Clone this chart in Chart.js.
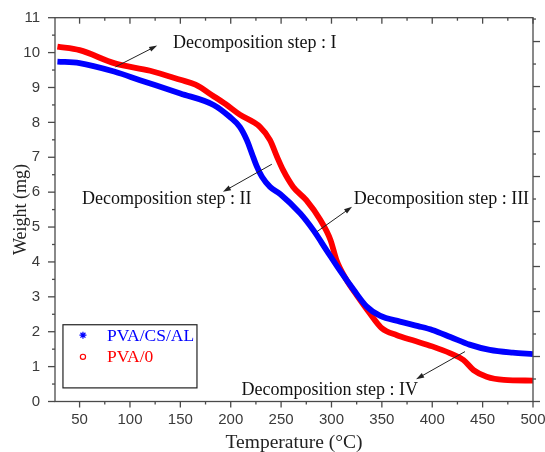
<!DOCTYPE html>
<html><head><meta charset="utf-8">
<script src="https://cdn.jsdelivr.net/npm/chart.js@4/dist/chart.umd.min.js"></script>
<style>html,body{margin:0;padding:0;background:#fff;}canvas{display:block;}</style>
</head><body>
<canvas id="c" width="545" height="452"></canvas>
<script>
// ---- data ----
const seriesNames = ['PVA/CS/AL', 'PVA/0'];
const blueTemps   = [28, 50, 85, 110, 150, 183, 199, 209, 216, 221, 226, 231, 239, 249, 269, 282, 295, 308, 322, 335, 348, 368, 386, 400, 418, 437, 457, 480, 500];
const blueWeights = [9.74, 9.70, 9.45, 9.21, 8.83, 8.50, 8.16, 7.87, 7.49, 7.11, 6.73, 6.44, 6.15, 5.95, 5.39, 4.91, 4.34, 3.77, 3.20, 2.72, 2.46, 2.29, 2.16, 2.05, 1.85, 1.63, 1.48, 1.40, 1.36];
const redTemps    = [28, 50, 85, 120, 150, 165, 183, 195, 209, 229, 239, 246, 252, 262, 275, 289, 299, 305, 315, 325, 338, 350, 365, 380, 400, 418, 431, 441, 454, 471, 500];
const redWeights  = [10.17, 10.07, 9.69, 9.48, 9.22, 9.08, 8.75, 8.52, 8.22, 7.87, 7.49, 7.01, 6.63, 6.15, 5.77, 5.20, 4.63, 4.05, 3.48, 3.05, 2.53, 2.10, 1.90, 1.76, 1.58, 1.38, 1.19, 0.90, 0.71, 0.62, 0.60];
const xTickValues = [50, 100, 150, 200, 250, 300, 350, 400, 450, 500];
const yTickValues = [0, 1, 2, 3, 4, 5, 6, 7, 8, 9, 10, 11];
const stepLabels  = ['Decomposition step : I', 'Decomposition step : II', 'Decomposition step : III', 'Decomposition step : IV'];
// annotation anchors in data units (temperature, weight): text left-middle, arrow tail, arrow head
const stepTextAt  = [[142.7, 10.26], [52.4, 5.80], [322.0, 5.80], [210.7, 0.33]];
const arrowTail   = [[85.6, 9.59], [240.8, 6.80], [285.7, 4.87], [432.5, 1.43]];
const arrowHead   = [[127.0, 10.20], [192.3, 6.01], [320.4, 5.58], [384.0, 0.64]];

const toPts = (xs, ys) => xs.map((t, i) => ({x: t, y: ys[i]}));

const BLUE = '#0000ff', RED = '#ff0000', AXIS = '#4a4a4a';

const decorPlugin = {
  id: 'decor',
  afterDraw(chart) {
    const {ctx, chartArea: a, scales: {x, y, y2}} = chart;
    const ln = (x1, y1, x2, y2_) => { ctx.beginPath(); ctx.moveTo(x1, y1); ctx.lineTo(x2, y2_); ctx.stroke(); };
    ctx.save();
    ctx.strokeStyle = AXIS; ctx.lineWidth = 1.3;
    ctx.strokeRect(a.left, a.top, a.right - a.left, a.bottom - a.top);
    // x ticks (bottom outward, top inward)
    for (let v = 25; v <= x.max + 0.01; v += 25) {
      if (v < x.min) continue;
      const px = x.getPixelForValue(v);
      const len = v % 50 === 0 ? 6 : 3;
      ln(px, a.bottom, px, a.bottom + len);
      ln(px, a.top, px, a.top + len);
    }
    // left y ticks outward
    for (let v = 0; v <= 11.001; v += 0.5) {
      const py = y.getPixelForValue(v);
      const len = Number.isInteger(v) ? 7 : 3;
      ln(a.left - len, py, a.left, py);
    }
    // right (secondary) ticks outward, no labels
    for (let v = 0; v <= y2.max; v += 5) {
      const py = y2.getPixelForValue(v);
      const len = v % 10 === 0 ? 7 : 3;
      ln(a.right, py, a.right + len, py);
    }
    // legend box
    const lx = x.getPixelForValue(33.5), rx = x.getPixelForValue(166.5);
    const ty = y.getPixelForValue(2.2), by = y.getPixelForValue(0.39);
    ctx.strokeStyle = '#222'; ctx.lineWidth = 1.2;
    ctx.strokeRect(lx, ty, rx - lx, by - ty);
    const rows = [[seriesNames[0], BLUE, 'star', y.getPixelForValue(1.9)], [seriesNames[1], RED, 'circle', y.getPixelForValue(1.28)]];
    ctx.font = '17.5px "Liberation Serif"';
    ctx.textBaseline = 'middle'; ctx.textAlign = 'left';
    rows.forEach(([name, col, ps, py]) => {
      ctx.strokeStyle = col; ctx.fillStyle = ps === 'circle' ? '#ffffff' : col;
      Chart.helpers.drawPoint(ctx, {pointStyle: ps, radius: ps === 'star' ? 3.5 : 2.6, rotation: 0, borderWidth: 1.4}, lx + 20, py);
      ctx.fillStyle = col;
      ctx.fillText(name, lx + 44, py + 1);
    });
    // annotations
    ctx.font = '18px "Liberation Serif"';
    ctx.strokeStyle = '#222'; ctx.lineWidth = 1;
    stepLabels.forEach((txt, i) => {
      ctx.fillStyle = '#111';
      ctx.fillText(txt, x.getPixelForValue(stepTextAt[i][0]), y.getPixelForValue(stepTextAt[i][1]));
      const x1 = x.getPixelForValue(arrowTail[i][0]), y1 = y.getPixelForValue(arrowTail[i][1]);
      const x2 = x.getPixelForValue(arrowHead[i][0]), y2p = y.getPixelForValue(arrowHead[i][1]);
      const ang = Math.atan2(y2p - y1, x2 - x1);
      ln(x1, y1, x2 - 5 * Math.cos(ang), y2p - 5 * Math.sin(ang));
      ctx.fillStyle = '#222';
      ctx.beginPath();
      ctx.moveTo(x2, y2p);
      ctx.lineTo(x2 - 8 * Math.cos(ang) + 2.6 * Math.sin(ang), y2p - 8 * Math.sin(ang) - 2.6 * Math.cos(ang));
      ctx.lineTo(x2 - 8 * Math.cos(ang) - 2.6 * Math.sin(ang), y2p - 8 * Math.sin(ang) + 2.6 * Math.cos(ang));
      ctx.closePath(); ctx.fill();
    });
    ctx.restore();
  }
};

const tickFont = {family: '"Liberation Sans", Arial, sans-serif', size: 15};
const titleFont = {family: '"Liberation Serif", "Times New Roman", serif', size: 18, lineHeight: 1};
const noPad = s => { s.paddingLeft = 0; s.paddingRight = 0; s.paddingTop = 0; s.paddingBottom = 0; };

new Chart(document.getElementById('c'), {
  type: 'line',
  data: {
    datasets: [
      {label: seriesNames[0], data: toPts(blueTemps, blueWeights), borderColor: BLUE, backgroundColor: BLUE, borderWidth: 5.8, pointRadius: 0, cubicInterpolationMode: 'monotone', fill: false, yAxisID: 'y'},
      {label: seriesNames[1], data: toPts(redTemps, redWeights), borderColor: RED, backgroundColor: RED, borderWidth: 5.8, pointRadius: 0, cubicInterpolationMode: 'monotone', fill: false, yAxisID: 'y'}
    ]
  },
  options: {
    responsive: false, animation: false, devicePixelRatio: 1,
    layout: {padding: {top: 17.7, left: 0, right: 0, bottom: 0}},
    plugins: {legend: {display: false}, tooltip: {enabled: false}},
    scales: {
      x: {
        type: 'linear', min: 25.6, max: 500,
        afterFit(s) { s.height = 50.5; noPad(s); },
        grid: {display: false, drawTicks: false}, border: {display: false},
        afterBuildTicks(s) { s.ticks = xTickValues.map(v => ({value: v})); },
        ticks: {font: tickFont, color: '#3a3a3a', padding: 9, maxRotation: 0, autoSkip: false},
        title: {display: true, text: 'Temperature (°C)', font: {...titleFont, size: 19.5}, color: '#222', padding: {top: 0, bottom: -1}}
      },
      y: {
        type: 'linear', position: 'left', min: 0, max: 11,
        afterFit(s) { s.width = 55; noPad(s); },
        grid: {display: false, drawTicks: false}, border: {display: false},
        afterBuildTicks(s) { s.ticks = yTickValues.map(v => ({value: v})); },
        ticks: {font: tickFont, color: '#3a3a3a', padding: 15, autoSkip: false},
        title: {display: true, text: 'Weight (mg)', font: titleFont, color: '#222', padding: {top: 12, bottom: 0}}
      },
      y2: {
        type: 'linear', position: 'right', min: 0, max: 85.3,
        afterFit(s) { s.width = 12; noPad(s); },
        grid: {display: false, drawTicks: false}, border: {display: false},
        ticks: {display: false}
      }
    }
  },
  plugins: [decorPlugin]
});
</script>
</body></html>
